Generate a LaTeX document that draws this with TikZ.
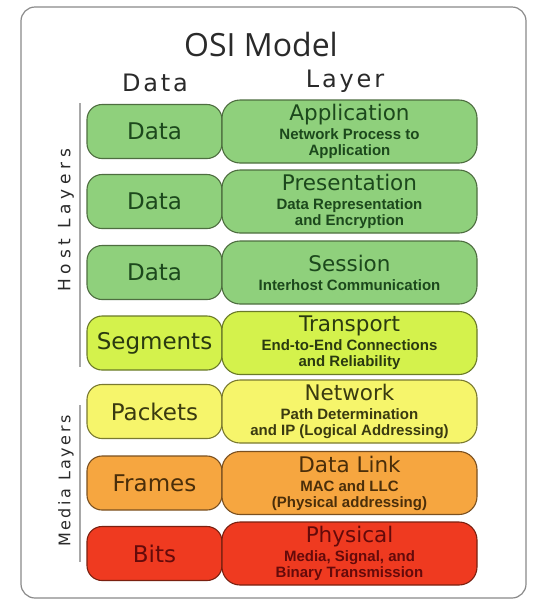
\documentclass[tikz,border=0pt]{standalone}
\usepackage{fontspec}
\setmainfont{DejaVu Sans}
\newfontfamily\smallf{Liberation Sans}
\newfontfamily\titlef{Open Sans}
\newfontfamily\hdrf{DejaVu Sans}[LetterSpace=12]
\newfontfamily\hostf{DejaVu Sans}[LetterSpace=28]
\newfontfamily\mediaf{DejaVu Sans}[LetterSpace=16]
\definecolor{framegray}{HTML}{8A8A8A}
\definecolor{sepgray}{HTML}{A8A8A8}
\definecolor{cgreen}{HTML}{8FD07C}
\definecolor{cgreenD}{HTML}{4E6E40}
\definecolor{cgreenT}{HTML}{1C481C}
\definecolor{clime}{HTML}{D4F24C}
\definecolor{climeD}{HTML}{6A7A28}
\definecolor{climeT}{HTML}{2A3A10}
\definecolor{cyel}{HTML}{F6F56B}
\definecolor{cyelD}{HTML}{7A7A30}
\definecolor{cyelT}{HTML}{3A3A10}
\definecolor{corange}{HTML}{F6A640}
\definecolor{corangeD}{HTML}{7A5020}
\definecolor{corangeT}{HTML}{4A2E0A}
\definecolor{cred}{HTML}{EF3A20}
\definecolor{credD}{HTML}{7A2010}
\definecolor{credT}{HTML}{640A0A}
\definecolor{hdrT}{HTML}{2A2A2A}
\newcommand{\lyrtitle}[1]{{\normalfont\fontsize{21.5}{22}\selectfont #1}}
\begin{document}
\begin{tikzpicture}[x=1pt,y=-1pt,
  lbox/.style={rounded corners=15pt, minimum width=135pt, minimum height=54pt,
    line width=1.1pt, inner sep=0pt, font=\fontsize{23}{24}\selectfont},
  rbox/.style={rounded corners=18pt, minimum width=255pt, minimum height=63pt,
    line width=1.1pt, inner sep=0pt, align=center,
    font=\smallf\bfseries\fontsize{15}{16}\selectfont},
  greenrow/.style={fill=cgreen, draw=cgreenD, text=cgreenT},
  limerow/.style={fill=clime, draw=climeD, text=climeT},
  yelrow/.style={fill=cyel, draw=cyelD, text=cyelT},
  orangerow/.style={fill=corange, draw=corangeD, text=corangeT},
  redrow/.style={fill=cred, draw=credD, text=credT},
  sepline/.style={draw=sepgray, line width=1.6pt},
  sidelabel/.style={rotate=90, text=hdrT}
]
\fill[white] (0,0) rectangle (533,603);
\useasboundingbox (0,0) rectangle (533,603);
\draw[rounded corners=14pt, draw=framegray, line width=1.2pt] (21,7) rectangle (526,598);

\node[text=hdrT, font=\titlef\fontsize{32}{34}\selectfont] (title) at (261,44) {OSI Model};
\node[text=hdrT, font=\hdrf\fontsize{24}{26}\selectfont] (hdata) at (155,83) {Data};
\node[text=hdrT, font=\hdrf\fontsize{24}{26}\selectfont] (hlayer) at (345,81) {Layer};

\node[lbox, greenrow] (l1) at (154.5,131.5) {Data};
\node[rbox, greenrow] (r1) at (349.5,131.5) {\lyrtitle{Application}\\[3pt]Network Process to\\Application};

\node[lbox, greenrow] (l2) at (154.5,201.5) {Data};
\node[rbox, greenrow] (r2) at (349.5,201.5) {\lyrtitle{Presentation}\\[3pt]Data Representation\\and Encryption};

\node[lbox, greenrow] (l3) at (154.5,272.5) {Data};
\node[rbox, greenrow] (r3) at (349.5,272.5) {\lyrtitle{Session}\\[3pt]Interhost Communication};

\node[lbox, limerow] (l4) at (154.5,343) {Segments};
\node[rbox, limerow] (r4) at (349.5,343) {\lyrtitle{Transport}\\[3pt]End-to-End Connections\\and Reliability};

\node[lbox, yelrow] (l5) at (154.5,411.5) {Packets};
\node[rbox, yelrow] (r5) at (349.5,411.5) {\lyrtitle{Network}\\[3pt]Path Determination\\and IP (Logical Addressing)};

\node[lbox, orangerow] (l6) at (154.5,483) {Frames};
\node[rbox, orangerow] (r6) at (349.5,483) {\lyrtitle{Data Link}\\[3pt]MAC and LLC\\(Physical addressing)};

\node[lbox, redrow] (l7) at (154.5,553.5) {Bits};
\node[rbox, redrow] (r7) at (349.5,553.5) {\lyrtitle{Physical}\\[3pt]Media, Signal, and\\Binary Transmission};

\coordinate (hs) at (80,103);
\coordinate (he) at (80,367);
\coordinate (ms) at (80,405);
\coordinate (me) at (80,562);
\draw[sepline] (hs) -- (he);
\draw[sepline] (ms) -- (me);
\node[sidelabel, font=\hostf\fontsize{17}{18}\selectfont] (host) at (66,220) {Host Layers};
\node[sidelabel, font=\mediaf\fontsize{16}{18}\selectfont] (media) at (66,481) {Media Layers};
\end{tikzpicture}
\end{document}
